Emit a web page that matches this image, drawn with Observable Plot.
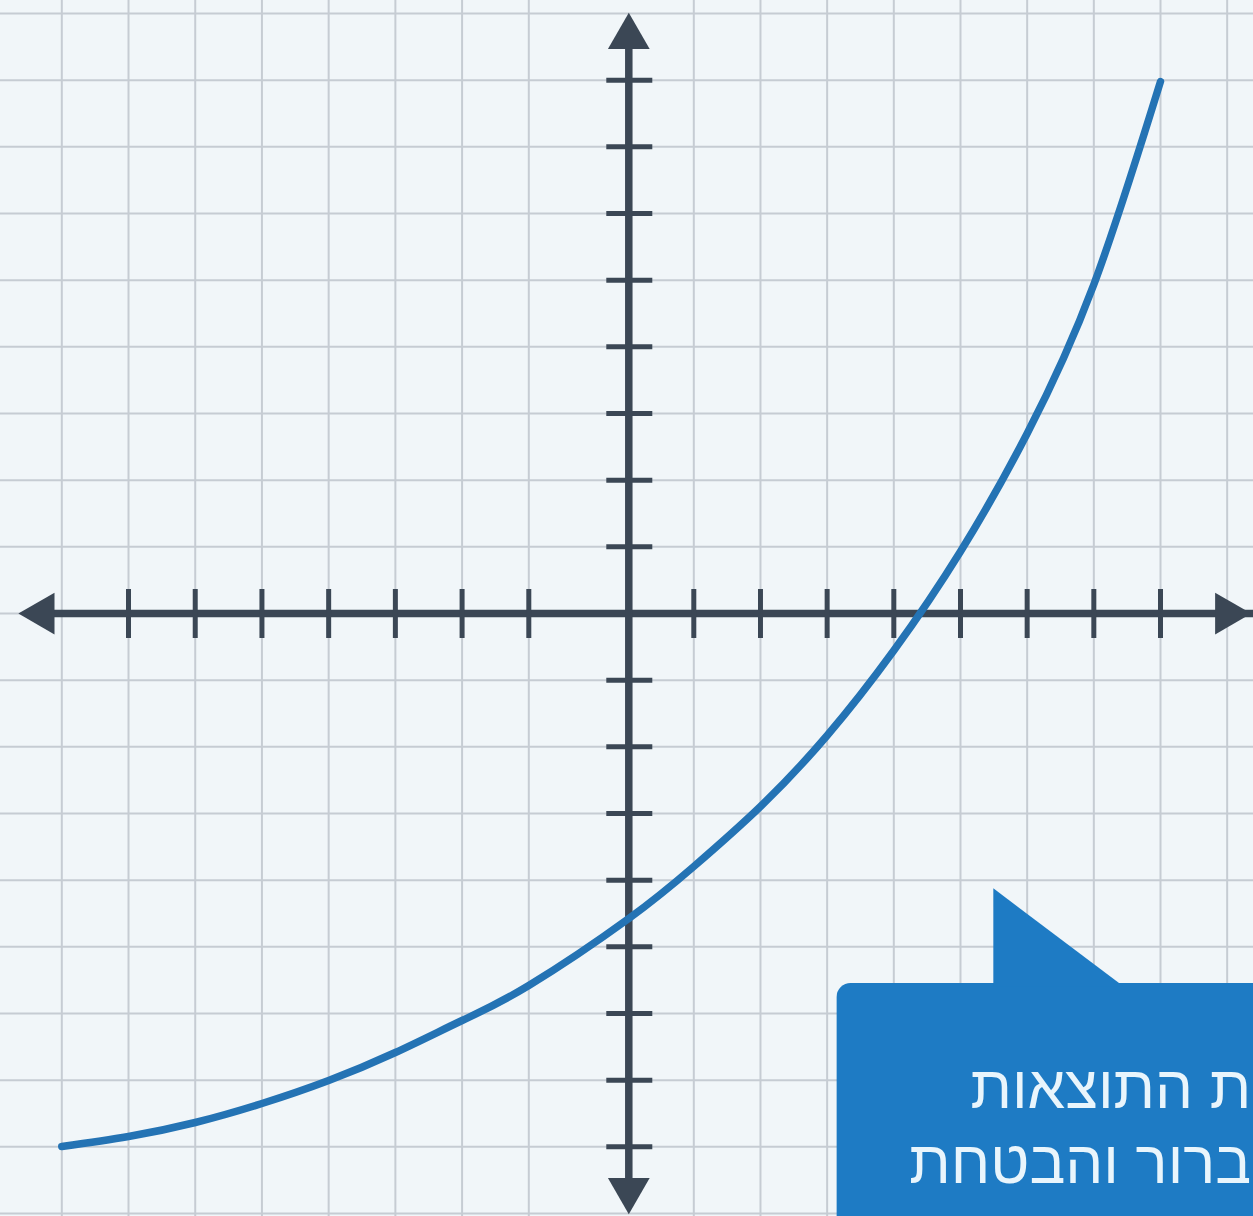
<!DOCTYPE html>
<html><head><meta charset="utf-8">
<script src="https://cdn.jsdelivr.net/npm/d3@7"></script>
<script src="https://cdn.jsdelivr.net/npm/@observablehq/plot@0.6"></script>
<style>
html,body{margin:0;padding:0;background:#f1f6f9;overflow:hidden;}
#chart svg{display:block;overflow:hidden;}
</style>
</head><body><div id="chart"></div>
<script>
// Curve (grid units)
const curveX = [-8, -7, -6, -5, -4, -3, -2, -1, 0, 1, 2, 3, 4, 5, 6, 7, 8];
const curveY = [-7.995, -7.845, -7.635, -7.35, -7.005, -6.585, -6.105, -5.58, -4.575, -3.795, -2.895, -1.83, -0.555, 0.93, 2.7, 4.935, 7.98];

// Axis ticks and grid
const xTicks = [-7, -6, -5, -4, -3, -2, -1, 1, 2, 3, 4, 5, 6, 7, 8];
const yTicks = [-8, -7, -6, -5, -4, -3, -2, -1, 1, 2, 3, 4, 5, 6, 7, 8];
const xGrid = [-8, -7, -6, -5, -4, -3, -2, -1, 1, 2, 3, 4, 5, 6, 7, 8, 9];
const yGrid = [-9, -8, -7, -6, -5, -4, -3, -2, -1, 0, 1, 2, 3, 4, 5, 6, 7, 8, 9];

// Axis arrow heads
const arrowX = [-8.29, 9.0, 0, 0];
const arrowY = [0, 0, 8.65, -8.65];
const arrowDir = [270, 90, 0, 180];

// Callout bubble
const bubbleX = [3.15, 11];
const bubbleY = [-5.55, -11];
const pointerX = [5.5, 7.45];
const pointerTop = [-4.13, -5.6];
const pointerBase = [-5.6, -5.6];
const calloutLines = ["ת התוצאות", "ברור והבטחת"];
const calloutX = [9.36];
const calloutY = [-8.545];

const curve = curveX.map((x, i) => ({x, y: curveY[i]}));
const arrows = arrowX.map((x, i) => ({x, y: arrowY[i], r: arrowDir[i]}));
const pointer = pointerX.map((x, i) => ({x, y1: pointerBase[i], y2: pointerTop[i]}));
const callout = [{t: calloutLines.join("\n"), x: calloutX[0], y: calloutY[0]}];

const AX = "#3b4755";
const plot = Plot.plot({
  width: 1253,
  height: 1216,
  margin: 0,
  style: {background: "#f1f6f9", overflow: "hidden"},
  x: {type: "linear", axis: null, domain: [-8, -1, 0, 1, 8], range: [61.3, 528.3, 628.3, 693.3, 1160]},
  y: {type: "linear", axis: null, domain: [-9.045, 9.195], range: [1216, 0]},
  marks: [
    Plot.ruleX(xGrid, {stroke: "#c6ccd3", strokeWidth: 2}),
    Plot.ruleY(yGrid, {stroke: "#c6ccd3", strokeWidth: 2}),
    Plot.rect([0], {x1: bubbleX[0], x2: bubbleX[1], y1: bubbleY[0], y2: bubbleY[1], fill: "#1e7bc4", rx: 14}),
    Plot.areaY(pointer, {x: "x", y1: "y1", y2: "y2", fill: "#1e7bc4"}),
    Plot.text(callout, {x: "x", y: "y", text: "t", textAnchor: "end", lineAnchor: "bottom", lineHeight: 1.25, fontSize: 60, fontFamily: "'Liberation Sans', 'DejaVu Sans', sans-serif", fill: "#e9f5fc"}),
    Plot.ruleY([0], {x1: -8.5, x2: 9.5, stroke: AX, strokeWidth: 7.5}),
    Plot.ruleX([0], {y1: -8.8, y2: 8.8, stroke: AX, strokeWidth: 7.5}),
    Plot.ruleX(xTicks, {y1: 0, y2: 0, insetTop: -24, insetBottom: -25, stroke: AX, strokeWidth: 5}),
    Plot.ruleY(yTicks, {x1: 0, x2: 0, insetLeft: -22, insetRight: -24, stroke: AX, strokeWidth: 5}),
    Plot.dot(arrows, {x: "x", y: "y", rotate: "r", symbol: "triangle", r: 15.5, fill: AX, stroke: "none"}),
    Plot.line(curve, {x: "x", y: "y", curve: "natural", stroke: "#2473b4", strokeWidth: 7.5, strokeLinecap: "round"})
  ]
});
document.getElementById("chart").appendChild(plot);
</script>
</body></html>
